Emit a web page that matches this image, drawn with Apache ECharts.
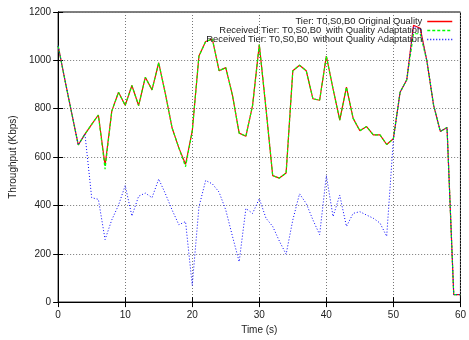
<!DOCTYPE html>
<html>
<head>
<meta charset="utf-8">
<script src="https://cdn.jsdelivr.net/npm/echarts@6/dist/echarts.min.js"></script>
<style>
html, body { margin: 0; padding: 0; background: #fff; }
#line-charts { width: 469px; height: 340px; }
</style>
</head>
<body>
<div id="line-charts"></div>
<script>
var times = [0,1,2,3,4,5,6,7,8,9,10,11,12,13,14,15,16,17,18,19,20,21,22,23,24,25,26,27,28,29,30,
  31,32,33,34,35,36,37,38,39,40,41,42,43,44,45,46,47,48,49,50,51,52,53,54,55,56,57,58,59,60];

var original = [1060,920,785,650,695,735,774,565,790,868,814,896,813,930,878,990,860,720,638,570,707,
  1018,1078,1088,957,970,855,699,686,814,1065,800,523,513,534,957,980,957,841,835,1018,
  882,753,889,760,709,726,692,692,652,676,868,920,1145,1133,997,814,706,722,31,31];

var withAdapt = [1060,920,785,650,695,735,774,550,790,868,814,896,813,930,878,990,860,720,638,560,707,
  1018,1078,1088,957,970,855,699,686,814,1065,800,523,513,534,957,980,957,841,835,1018,
  882,753,889,760,709,726,692,692,652,676,868,920,1110,1110,997,814,706,722,31,31];

var withoutAdapt = [1060,920,785,650,695,432,425,259,340,401,482,356,438,451,432,509,448,381,320,333,69,
  394,503,489,455,381,272,167,387,367,428,347,313,252,198,340,448,408,340,279,523,
  354,442,313,367,374,360,347,327,272,672,868,920,1140,1130,997,814,706,722,31,31];

var seriesNames = [
  'Tier: T0,S0,B0 Original Quality',
  'Received Tier: T0,S0,B0  with Quality Adaptation',
  'Received Tier: T0,S0,B0  without Quality Adaptation'
];
var colors = ['#ff0000', '#00ff00', '#0000ff'];
var dashes = ['solid', [3, 2], [1, 2]];

function pairs(vals) {
  var out = [];
  for (var i = 0; i < times.length; i++) out.push([times[i], vals[i]]);
  return out;
}

var font = 'Liberation Sans, Arial, sans-serif';
var myLine = echarts.init(document.getElementById('line-charts'));
var gridLine = { show: true, lineStyle: { color: '#777', type: [1, 2], width: 1 } };
var tick = { show: true, inside: true, length: 5, lineStyle: { color: '#000' } };

var legendData = seriesNames.map(function (n, i) {
  return { name: n, lineStyle: { color: colors[i], width: 1.5, type: dashes[i] } };
});

var option = {
  animation: false,
  textStyle: { fontFamily: font },
  grid: { left: 57, right: 4, top: 12, bottom: 33, show: true, borderColor: '#000', borderWidth: 1 },
  legend: {
    orient: 'vertical',
    right: 16,
    top: 17,
    padding: 0,
    align: 'right',
    itemGap: 0,
    itemWidth: 25,
    itemHeight: 9,
    itemStyle: { opacity: 0 },
    textStyle: { fontFamily: font, fontSize: 9.4, lineHeight: 9, color: '#222' },
    data: legendData
  },
  xAxis: [{
    type: 'value', min: 0, max: 60, interval: 10,
    name: 'Time (s)', nameLocation: 'middle', nameGap: 19,
    nameTextStyle: { fontSize: 10, color: '#222', fontFamily: font },
    axisLine: { show: true, lineStyle: { color: '#000', width: 1 } },
    axisTick: tick,
    axisLabel: { fontSize: 10, color: '#222', margin: 8, fontFamily: font },
    splitLine: gridLine
  }, {
    type: 'value', min: 0, max: 60, interval: 10, position: 'top',
    axisLine: { show: true, lineStyle: { color: '#000', width: 1 } },
    axisTick: tick, axisLabel: { show: false }, splitLine: { show: false }
  }],
  yAxis: [{
    type: 'value', min: 0, max: 1200, interval: 200,
    name: 'Throughput (Kbps)', nameLocation: 'middle', nameGap: 40,
    nameTextStyle: { fontSize: 10, color: '#222', fontFamily: font },
    axisLine: { show: true, lineStyle: { color: '#000', width: 1 } },
    axisTick: tick,
    axisLabel: { fontSize: 10, color: '#222', margin: 7, fontFamily: font,
      formatter: function (v) { return String(v); } },
    splitLine: gridLine
  }, {
    type: 'value', min: 0, max: 1200, interval: 200, position: 'right',
    axisLine: { show: true, lineStyle: { color: '#000', width: 1 } },
    axisTick: tick, axisLabel: { show: false }, splitLine: { show: false }
  }],
  series: [
    {
      name: seriesNames[0], type: 'line', symbol: 'none',
      lineStyle: { color: colors[0], width: 1.2, type: dashes[0] }, itemStyle: { color: colors[0] },
      data: pairs(original)
    },
    {
      name: seriesNames[1], type: 'line', symbol: 'none',
      lineStyle: { color: colors[1], width: 1.2, type: dashes[1] }, itemStyle: { color: colors[1] },
      data: pairs(withAdapt)
    },
    {
      name: seriesNames[2], type: 'line', symbol: 'none',
      lineStyle: { color: colors[2], width: 1, type: dashes[2] }, itemStyle: { color: colors[2] },
      data: pairs(withoutAdapt)
    }
  ]
};
myLine.setOption(option);
</script>
</body>
</html>
